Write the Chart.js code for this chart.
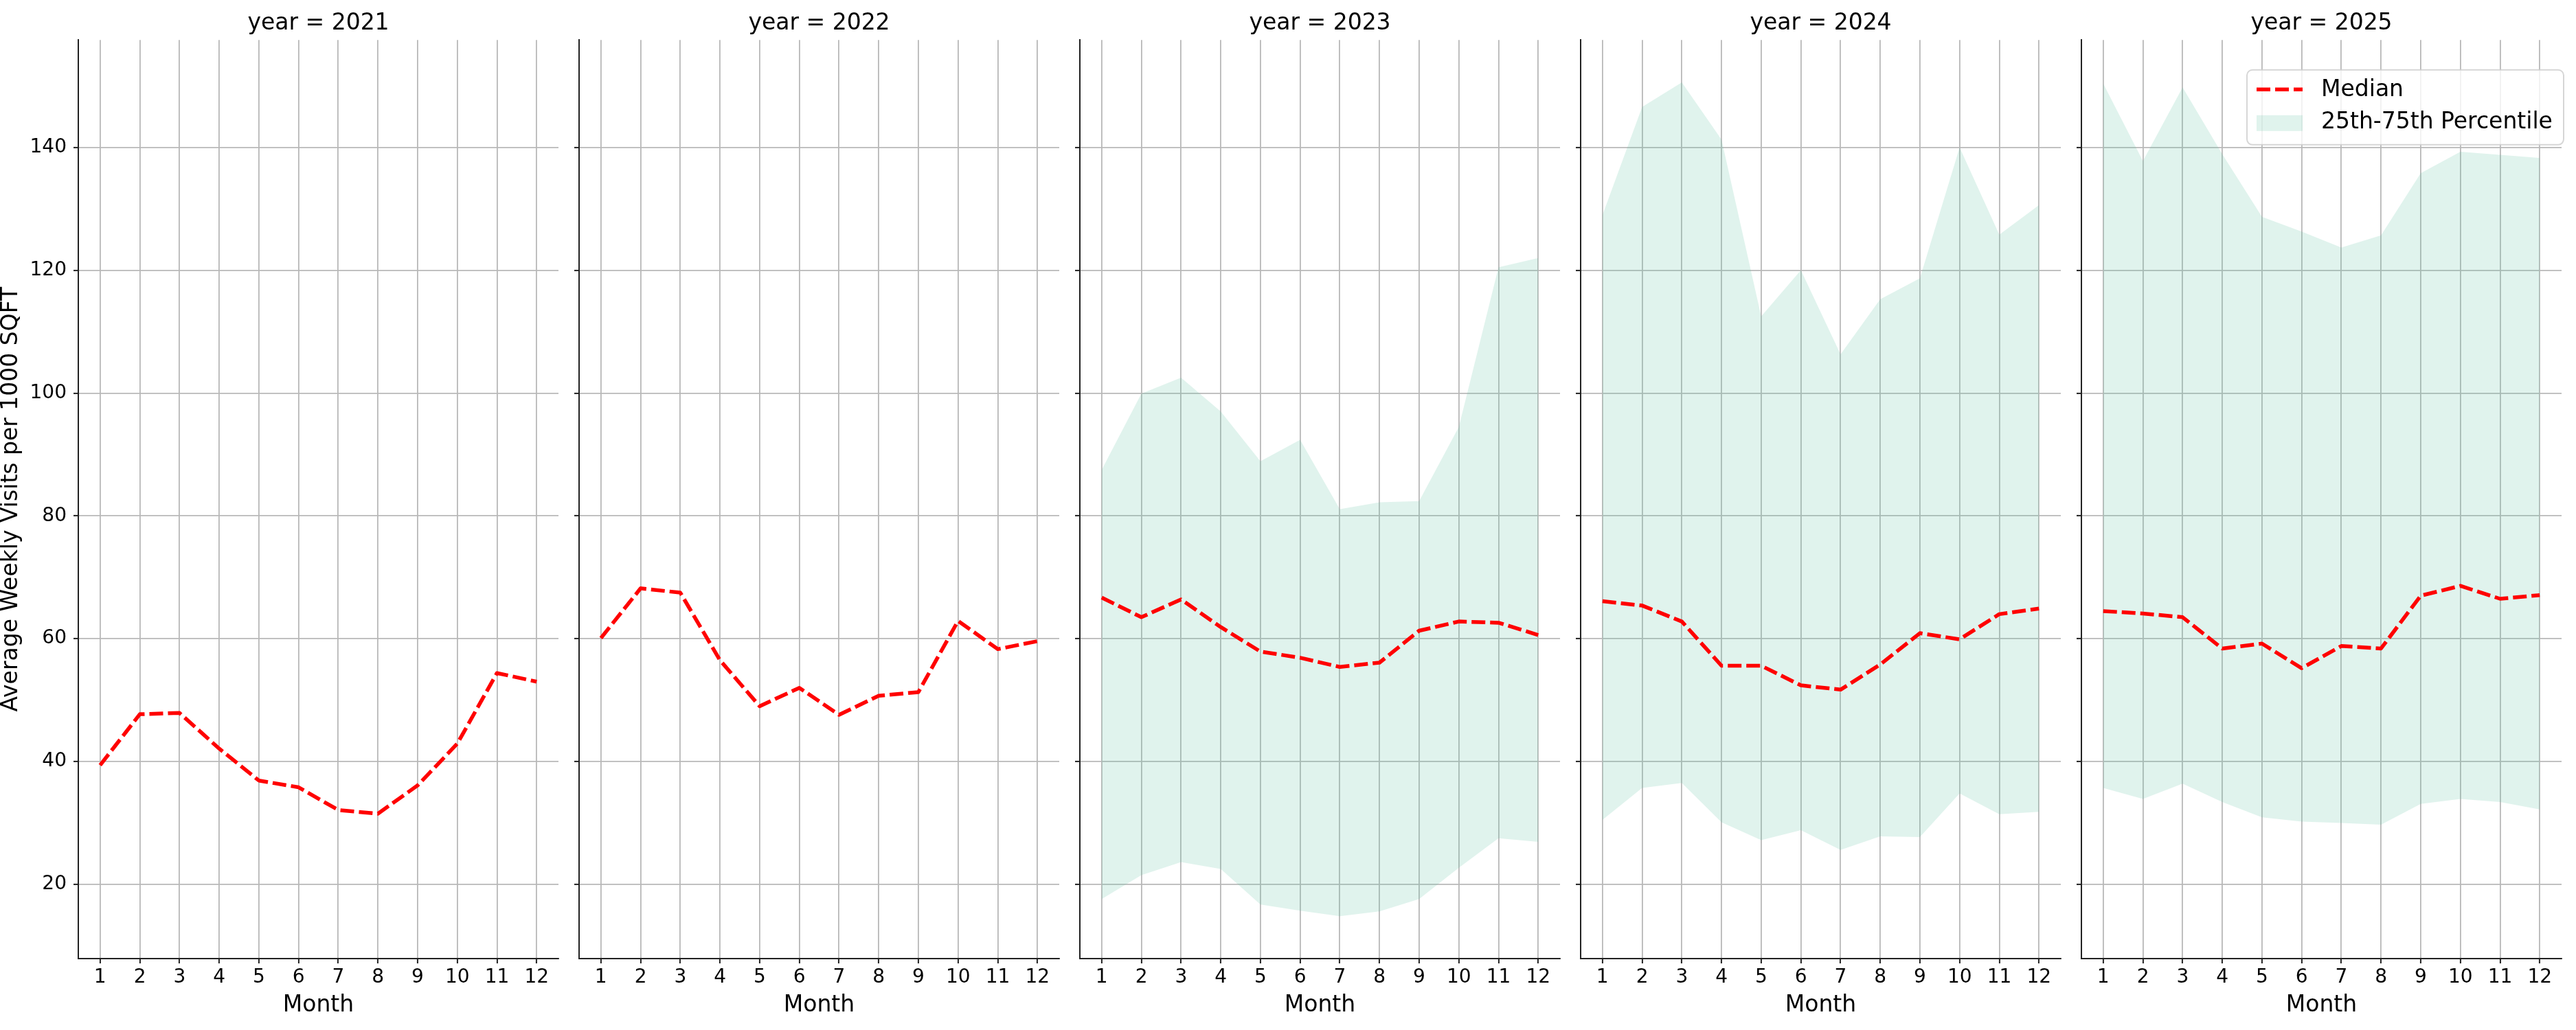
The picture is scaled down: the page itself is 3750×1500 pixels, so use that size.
<!DOCTYPE html>
<html><head><meta charset="utf-8">
<script src="https://cdn.jsdelivr.net/npm/chart.js@4.4.1/dist/chart.umd.min.js"></script>
<style>
html,body{margin:0;padding:0;background:#fff;}
#wrap{position:relative;width:3750px;height:1500px;overflow:hidden;background:#fff;}
canvas{position:absolute;top:0;}
</style></head><body><div id="wrap"></div>
<script>
// ---------- data ----------
const months = [1,2,3,4,5,6,7,8,9,10,11,12];
const years = [2021, 2022, 2023, 2024, 2025];
const yTicks = [20, 40, 60, 80, 100, 120, 140];
const legendLabels = ['Median', '25th-75th Percentile'];

const median2021 = [39.4, 47.7, 47.9, 42.1, 36.9, 35.8, 32.1, 31.5, 36.1, 42.9, 54.4, 53.0];
const median2022 = [60.1, 68.2, 67.5, 56.5, 49.0, 52.0, 47.6, 50.7, 51.3, 62.9, 58.3, 59.6];
const median2023 = [66.7, 63.5, 66.4, 61.9, 57.9, 56.9, 55.4, 56.1, 61.3, 62.8, 62.6, 60.6];
const p75_2023   = [87.5, 99.9, 102.5, 97.0, 88.9, 92.4, 81.1, 82.2, 82.4, 94.5, 120.5, 122.0];
const p25_2023   = [17.6, 21.5, 23.6, 22.5, 16.7, 15.7, 14.8, 15.6, 17.6, 22.7, 27.5, 26.9];
const median2024 = [66.1, 65.4, 62.8, 55.6, 55.6, 52.4, 51.7, 55.8, 60.9, 59.9, 64.0, 64.9];
const p75_2024   = [129.0, 146.6, 150.6, 141.3, 112.5, 120.0, 106.3, 115.3, 118.7, 140.0, 125.8, 130.6];
const p25_2024   = [30.5, 35.7, 36.5, 30.1, 27.2, 28.8, 25.6, 27.8, 27.7, 34.8, 31.4, 31.8];
const median2025 = [64.5, 64.1, 63.5, 58.4, 59.2, 55.2, 58.8, 58.4, 67.0, 68.6, 66.5, 67.1];
const p75_2025   = [150.4, 137.8, 149.8, 138.9, 128.7, 126.3, 123.7, 125.7, 135.8, 139.3, 138.8, 138.3];
const p25_2025   = [35.7, 33.9, 36.4, 33.4, 30.9, 30.2, 30.0, 29.7, 33.1, 33.9, 33.4, 32.2];

const medians = [median2021, median2022, median2023, median2024, median2025];
const uppers  = [null, null, p75_2023, p75_2024, p75_2025];
const lowers  = [null, null, p25_2023, p25_2024, p25_2025];

// ---------- layout / style ----------
const FONT = "'DejaVu Sans', 'Liberation Sans', sans-serif";
const PLOT_L0 = 114, STEP = 729, PLOT_W = 699, PAD_R = 14;
const X_MIN = 0.45, X_MAX = 12.55, Y_MIN = 7.9, Y_MAX = 157.5;
const GRID = '#b8b8b8', SPINE = '#222222';
const RED = '#ff0000', FILL = 'rgba(102,194,165,0.2)';
const DASH = [20, 7];

const legendPlugin = {
  id: 'panelLegend',
  afterDraw(chart) {
    const {ctx, chartArea: a} = chart;
    const right = a.right + 3, left = right - 461, top = a.top + 43.5, h = 109;
    ctx.save();
    ctx.beginPath();
    ctx.roundRect(left, top, right - left, h, 8);
    ctx.fillStyle = 'rgba(255,255,255,0.8)';
    ctx.fill();
    ctx.lineWidth = 2;
    ctx.strokeStyle = 'rgba(204,204,204,0.8)';
    ctx.stroke();
    ctx.beginPath();
    ctx.setLineDash(DASH);
    ctx.moveTo(left + 14, top + 28.5);
    ctx.lineTo(left + 81, top + 28.5);
    ctx.strokeStyle = RED;
    ctx.lineWidth = 5.5;
    ctx.stroke();
    ctx.setLineDash([]);
    ctx.fillStyle = FILL;
    ctx.fillRect(left + 14, top + 66, 67, 23);
    ctx.fillStyle = '#000';
    ctx.font = "33px " + FONT;
    ctx.textBaseline = 'middle';
    ctx.textAlign = 'left';
    ctx.fillText(legendLabels[0], left + 108, top + 30);
    ctx.fillText(legendLabels[1], left + 108, top + 77);
    ctx.restore();
  }
};

const wrap = document.getElementById('wrap');
const pts = arr => months.map((m, k) => ({x: m, y: arr[k]}));

years.forEach((yr, i) => {
  const axisW = i === 0 ? 114 : 20;
  const cw = axisW + PLOT_W + PAD_R;
  const canvas = document.createElement('canvas');
  canvas.width = cw; canvas.height = 1500;
  canvas.style.left = (PLOT_L0 + STEP * i - axisW) + 'px';
  canvas.style.width = cw + 'px'; canvas.style.height = '1500px';
  wrap.appendChild(canvas);

  const datasets = [{
    label: legendLabels[0], data: pts(medians[i]),
    borderColor: RED, borderWidth: 5.5, borderDash: DASH,
    borderJoinStyle: 'round', pointRadius: 0, fill: false, tension: 0
  }];
  if (uppers[i]) {
    datasets.push({label: '75th', data: pts(uppers[i]), borderColor: 'rgba(0,0,0,0)',
      borderWidth: 1, backgroundColor: FILL, pointRadius: 0, fill: '+1', tension: 0});
    datasets.push({label: '25th', data: pts(lowers[i]), borderColor: 'rgba(0,0,0,0)',
      borderWidth: 1, pointRadius: 0, fill: false, tension: 0});
  }

  new Chart(canvas, {
    type: 'line',
    data: {datasets},
    plugins: i === 4 ? [legendPlugin] : [],
    options: {
      responsive: false, animation: false, devicePixelRatio: 1,
      layout: {padding: {left: 0, right: PAD_R, top: 0, bottom: 0}},
      plugins: {
        legend: {display: false},
        tooltip: {enabled: false},
        title: {display: true, text: 'year = ' + yr, fullSize: false, color: '#000',
          font: {family: FONT, size: 33, weight: 'normal', lineHeight: 1.2},
          padding: {top: 15, bottom: 3.7}}
      },
      scales: {
        x: {
          type: 'linear', min: X_MIN, max: X_MAX,
          afterBuildTicks: s => { s.ticks = months.map(v => ({value: v})); },
          afterFit: s => { s.height = 104; },
          ticks: {color: '#000', font: {family: FONT, size: 28}, padding: 3.5,
            maxRotation: 0, autoSkip: false},
          grid: {color: GRID, lineWidth: 1.8, drawTicks: true, tickLength: 7,
            tickColor: SPINE, tickWidth: 2},
          border: {display: true, color: SPINE, width: 2},
          title: {display: true, text: 'Month', color: '#000',
            font: {family: FONT, size: 33, lineHeight: 1.2}, padding: {top: 0, bottom: 16}}
        },
        y: {
          type: 'linear', min: Y_MIN, max: Y_MAX,
          afterBuildTicks: s => { s.ticks = yTicks.map(v => ({value: v})); },
          afterFit: s => { s.width = axisW; },
          ticks: {display: i === 0, color: '#000', font: {family: FONT, size: 28}, padding: 10},
          grid: {color: GRID, lineWidth: 1.8, drawTicks: true, tickLength: 7,
            tickColor: SPINE, tickWidth: 2},
          border: {display: true, color: SPINE, width: 2},
          title: {display: i === 0, text: 'Average Weekly Visits per 1000 SQFT', color: '#000',
            font: {family: FONT, size: 33, lineHeight: 1.0}, padding: {top: 0, bottom: 0}}
        }
      }
    }
  });
});
</script>
</body></html>
